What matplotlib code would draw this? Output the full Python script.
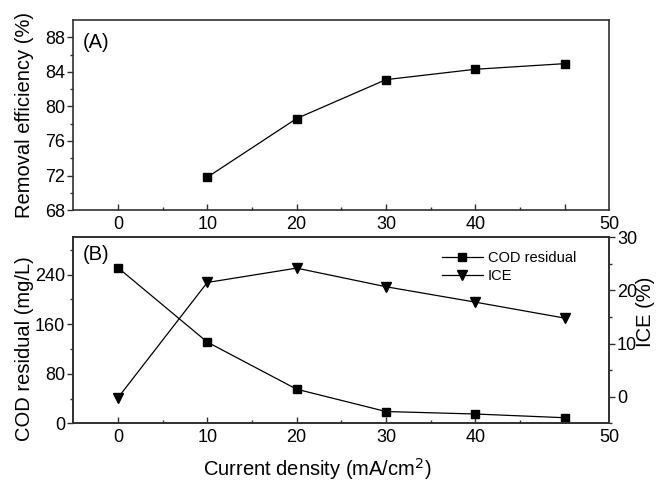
import matplotlib
matplotlib.use("Agg")
import matplotlib.pyplot as plt

plt.rcParams['font.family'] = ['Liberation Sans', 'DejaVu Sans']

# ---- data ----
x_top = [10, 20, 30, 40, 50]
removal = [71.8, 78.6, 83.1, 84.3, 84.95]

x_bot = [0, 10, 20, 30, 40, 50]
cod = [251, 131, 55, 19, 15, 9]
ice = [-0.2, 21.5, 24.2, 20.7, 17.8, 14.8]

xticks = [0, 10, 20, 30, 40, 50, 55]
xticklabels = ['0', '10', '20', '30', '40', '', '50']
xminor = [5, 15, 25, 35, 45]

spine_c = '#303030'

fig = plt.figure(figsize=(6.59, 4.84), dpi=100)
axA = fig.add_axes([0.1112, 0.566, 0.8134, 0.3926])
axB = fig.add_axes([0.1112, 0.1254, 0.8134, 0.3843])
axC = axB.twinx()

def style_x(ax):
    ax.set_xlim(-5, 55)
    ax.set_xticks(xticks)
    ax.set_xticklabels(xticklabels)
    ax.set_xticks(xminor, minor=True)
    ax.tick_params(axis='x', which='major', direction='in', length=4.5, width=1, labelsize=13, pad=4, color=spine_c)
    ax.tick_params(axis='x', which='minor', direction='in', length=2.5, width=1, color=spine_c)
    ax.xaxis.get_major_ticks()[-1].tick1line.set_visible(False)
    for s in ax.spines.values():
        s.set_linewidth(1.2)
        s.set_color(spine_c)

# Panel A
axA.plot(x_top, removal, color='black', lw=0.9, marker='s', ms=5.5, mec='black', mfc='black')
axA.set_ylim(68, 90)
axA.set_yticks([68, 72, 76, 80, 84, 88])
axA.set_yticks([70, 74, 78, 82, 86], minor=True)
style_x(axA)
axA.tick_params(axis='y', which='major', direction='out', length=4.5, width=1, labelsize=13, pad=1.5, color=spine_c)
axA.tick_params(axis='y', which='minor', direction='out', length=2.5, width=1, color=spine_c)
axA.set_ylabel('Removal efficiency (%)', fontsize=14.5)
axA.yaxis.set_label_coords(-0.074, 0.5)
axA.text(0.018, 0.88, '(A)', transform=axA.transAxes, fontsize=14.5, va='center', ha='left')

# Panel B
l1, = axB.plot(x_bot, cod, color='black', lw=0.9, marker='s', ms=5.5, mec='black', mfc='black', label='COD residual')
axB.set_ylim(0, 300)
axB.set_yticks([0, 80, 160, 240])
axB.set_yticks([40, 120, 200, 280], minor=True)
style_x(axB)
axB.tick_params(axis='y', which='major', direction='out', length=4.5, width=1, labelsize=13, pad=1.5, color=spine_c)
axB.tick_params(axis='y', which='minor', direction='out', length=2.5, width=1, color=spine_c)
axB.set_ylabel('COD residual (mg/L)', fontsize=14.5)
axB.yaxis.set_label_coords(-0.074, 0.4)
axB.set_xlabel('Current density (mA/cm$^2$)', fontsize=14.5)
axB.xaxis.set_label_coords(0.456, -0.175)
axB.text(0.018, 0.905, '(B)', transform=axB.transAxes, fontsize=14.5, va='center', ha='left')

l2, = axC.plot(x_bot, ice, color='black', lw=0.9, marker='v', ms=6.5, mec='black', mfc='black', label='ICE')
axC.set_ylim(-4.85, 30)
axC.set_yticks([0, 10, 20, 30])
axC.set_yticks([-5, 5, 15, 25], minor=True)
axC.tick_params(axis='y', which='major', direction='out', length=4.5, width=1, labelsize=13, pad=1, color=spine_c)
axC.tick_params(axis='y', which='minor', direction='out', length=2.5, width=1, color=spine_c)
axC.set_ylabel('ICE (%)', fontsize=14.5)
axC.yaxis.set_label_coords(1.049, 0.6)
for s in axC.spines.values():
    s.set_linewidth(1.2)
    s.set_color(spine_c)

axB.legend(handles=[l1, l2], loc='upper left', bbox_to_anchor=(0.688, 0.925), frameon=False,
           fontsize=10.5, handlelength=2.8, handletextpad=0.35, labelspacing=0.25,
           borderpad=0, borderaxespad=0)

fig.savefig('out.png', dpi=100)
